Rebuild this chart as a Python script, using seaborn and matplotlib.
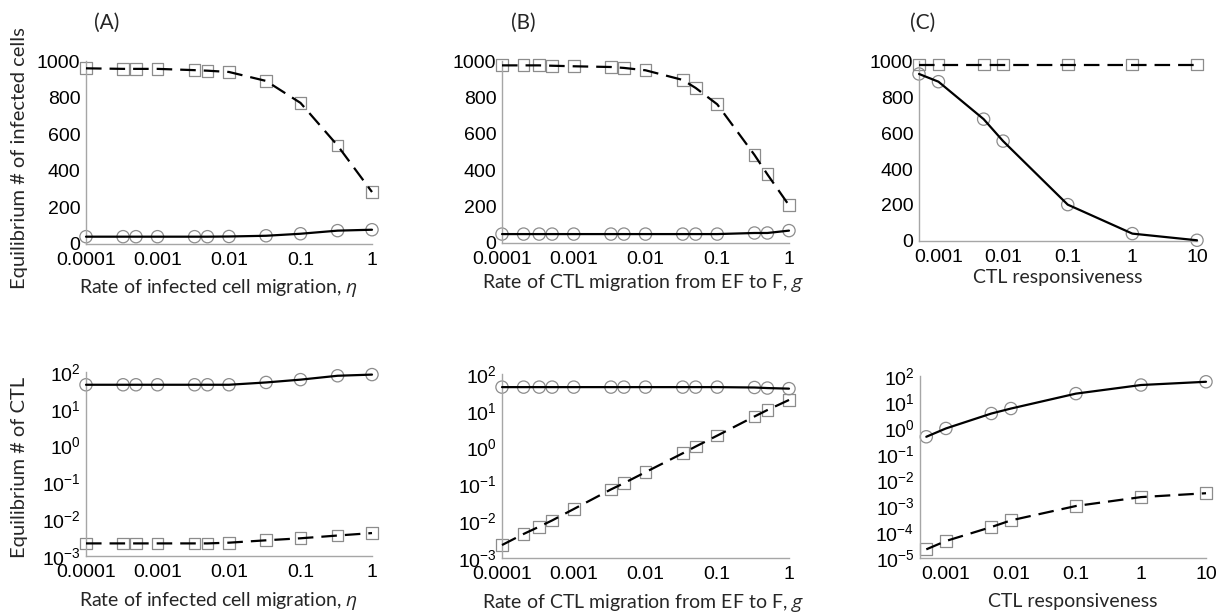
import numpy as np
import pandas as pd
import matplotlib
matplotlib.use("Agg")
import matplotlib.pyplot as plt
from matplotlib.ticker import NullLocator, FixedLocator
import seaborn as sns

# ---------------- data ----------------
x_eta = [1e-4, 3.3e-4, 5e-4, 1e-3, 3.3e-3, 5e-3, 0.01, 0.033, 0.1, 0.33, 1]
A_inf_F = [960, 957, 957, 957, 950, 947, 940, 891, 771, 538, 284]      # squares, dashed
A_inf_EF = [40, 40, 40, 40, 40, 40, 41, 45, 56, 73, 78]                # circles, solid
A_ctl_EF = [45, 45, 45, 45, 45, 45, 45, 52, 62, 79, 85]                # circles, solid
A_ctl_F = [0.0022, 0.0022, 0.0022, 0.0022, 0.0022, 0.0022, 0.0023,
           0.00267, 0.00303, 0.0036, 0.0042]                           # squares, dashed

x_g = [1e-4, 2e-4, 3.3e-4, 5e-4, 1e-3, 3.3e-3, 5e-3, 0.01, 0.033, 0.05, 0.1, 0.33, 0.5, 1]
B_inf_F = [976, 976, 976, 974, 971, 967, 962, 949, 896, 852, 762, 484, 377, 207]
B_inf_EF = [49, 49, 49, 49, 49, 49, 49, 49, 49, 49, 49, 55, 55, 68]
B_ctl_EF = [44, 44, 44, 44, 44, 44, 44, 44, 44, 44, 44, 43, 41.5, 40]
B_ctl_F = [0.00225, 0.0045, 0.0071, 0.0105, 0.0214, 0.073, 0.108, 0.215,
           0.70, 1.07, 2.12, 7.0, 10.5, 19.7]

x_resp = [5e-4, 1e-3, 5e-3, 0.01, 0.1, 1, 10]
C_inf_F = [980, 980, 980, 980, 980, 980, 980]
C_inf_EF = [928, 885, 677, 555, 202, 41, 4]
C_ctl_EF = [0.46, 0.96, 3.6, 5.6, 21, 45, 60]
C_ctl_F = [2.15e-5, 4.5e-5, 1.55e-4, 2.8e-4, 1.0e-3, 2.2e-3, 3.1e-3]

ticks_rate = [1e-4, 1e-3, 1e-2, 1e-1, 1]
ticklabels_rate = ["0.0001", "0.001", "0.01", "0.1", "1"]
ticks_resp = [1e-3, 1e-2, 1e-1, 1, 10]
ticklabels_resp = ["0.001", "0.01", "0.1", "1", "10"]

xlabel_A = r"Rate of infected cell migration, $\it{η}$"
xlabel_B = r"Rate of CTL migration from EF to F, $\it{g}$"
xlabel_C = "CTL responsiveness"
ylabel_top = "Equilibrium # of infected cells"
ylabel_bot = "Equilibrium # of CTL"
panel_letters = ["(A)", "(B)", "(C)"]

# ---------------- style ----------------
sns.set_style("white")
plt.rcParams["font.family"] = ["Liberation Sans", "DejaVu Sans"]
plt.rcParams["mathtext.fontset"] = "custom"
plt.rcParams["mathtext.it"] = "Open Sans:italic"
plt.rcParams["mathtext.rm"] = "Liberation Sans"
LABEL_FONT = ["Lato", "Open Sans", "DejaVu Sans"]

W, H = 1226, 616
fig = plt.figure(figsize=(W / 100, H / 100), dpi=100)

SPINE = "#a6a6a6"
MARK = "#8c8c8c"


def add_ax(x0, y0, x1, y1):
    return fig.add_axes([x0 / W, 1 - y1 / H, (x1 - x0) / W, (y1 - y0) / H])


def draw(ax, x, y_sq, y_ci):
    df_sq = pd.DataFrame({"x": x, "y": y_sq})
    df_ci = pd.DataFrame({"x": x, "y": y_ci})
    sns.scatterplot(data=df_sq, x="x", y="y", ax=ax, marker="s", s=72,
                    color=MARK, facecolor="none", edgecolor=MARK,
                    linewidth=0.9, zorder=2, clip_on=False, legend=False)
    sns.scatterplot(data=df_ci, x="x", y="y", ax=ax, marker="o", s=78,
                    color=MARK, facecolor="none", edgecolor=MARK,
                    linewidth=0.9, zorder=2, clip_on=False, legend=False)
    sns.lineplot(data=df_sq, x="x", y="y", ax=ax, color="black", lw=1.6,
                 linestyle=(0, (7, 3.6)), zorder=3, legend=False, clip_on=False)
    sns.lineplot(data=df_ci, x="x", y="y", ax=ax, color="black", lw=1.6,
                 zorder=3, legend=False, clip_on=False)


def style(ax, xlim, xt, xtl, log_y, ylim, yt, ytl):
    ax.set_xscale("log")
    if log_y:
        ax.set_yscale("log")
    ax.set_xlim(*xlim)
    ax.set_ylim(*ylim)
    ax.xaxis.set_major_locator(FixedLocator(xt))
    ax.set_xticklabels(xtl)
    ax.xaxis.set_minor_locator(NullLocator())
    ax.yaxis.set_major_locator(FixedLocator(yt))
    ax.set_yticklabels(ytl)
    ax.yaxis.set_minor_locator(NullLocator())
    for s in ["top", "right"]:
        ax.spines[s].set_visible(False)
    for s in ["left", "bottom"]:
        ax.spines[s].set_color(SPINE)
        ax.spines[s].set_linewidth(1.0)
    ax.tick_params(axis="both", direction="in", length=8, width=1.0,
                   color=SPINE, labelsize=14, labelcolor="black")
    ax.tick_params(axis="x", pad=6)
    ax.tick_params(axis="y", pad=4)
    ax.set_xlabel("")
    ax.set_ylabel("")
    ax.patch.set_alpha(0)


lin_ticks = [0, 200, 400, 600, 800, 1000]
lin_labels = [str(v) for v in lin_ticks]


def log_labels(lo, hi):
    vals = [10.0 ** k for k in range(lo, hi + 1)]
    labs = [r"$\mathregular{10^{%d}}$" % k for k in range(lo, hi + 1)]
    return vals, labs


# top row
axA = add_ax(86, 61, 372, 244)
draw(axA, x_eta, A_inf_F, A_inf_EF)
style(axA, (1e-4, 1), ticks_rate, ticklabels_rate, False, (0, 1000), lin_ticks, lin_labels)

axB = add_ax(502, 61, 789, 243)
draw(axB, x_g, B_inf_F, B_inf_EF)
style(axB, (1e-4, 1), ticks_rate, ticklabels_rate, False, (0, 1000), lin_ticks, lin_labels)

axC = add_ax(919, 61, 1197, 241)
draw(axC, x_resp, C_inf_F, C_inf_EF)
style(axC, (5e-4, 10), ticks_resp, ticklabels_resp, False, (0, 1000), lin_ticks, lin_labels)

# bottom row
v, l = log_labels(-3, 2)
axD = add_ax(86, 372, 372, 556)
draw(axD, x_eta, A_ctl_F, A_ctl_EF)
style(axD, (1e-4, 1), ticks_rate, ticklabels_rate, True, (1e-3, 1e2), v, l)

axE = add_ax(502, 374, 789, 558)
draw(axE, x_g, B_ctl_F, B_ctl_EF)
style(axE, (1e-4, 1), ticks_rate, ticklabels_rate, True, (1e-3, 1e2), v, l)

v2, l2 = log_labels(-5, 2)
axF = add_ax(920, 376, 1206, 558)
draw(axF, x_resp, C_ctl_F, C_ctl_EF)
style(axF, (4e-4, 10), ticks_resp, ticklabels_resp, True, (1e-5, 1e2), v2, l2)

# labels
def ftext(x, y, s, size=14, **kw):
    fig.text(x / W, 1 - y / H, s, ha="center", va="center",
             family=LABEL_FONT, fontsize=size, **kw)

ftext(218, 288, xlabel_A)
ftext(643, 283, xlabel_B)
ftext(1058, 278, xlabel_C)
ftext(218, 601, xlabel_A)
ftext(643, 603, xlabel_B)
ftext(1073, 602, xlabel_C)
ftext(20, 158, ylabel_top, size=14.5, rotation=90)
ftext(20, 467, ylabel_bot, size=14.5, rotation=90)
ftext(107, 23, panel_letters[0], size=15)
ftext(523, 23, panel_letters[1], size=15)
ftext(923, 23, panel_letters[2], size=15)

fig.savefig("out.png", dpi=100)
